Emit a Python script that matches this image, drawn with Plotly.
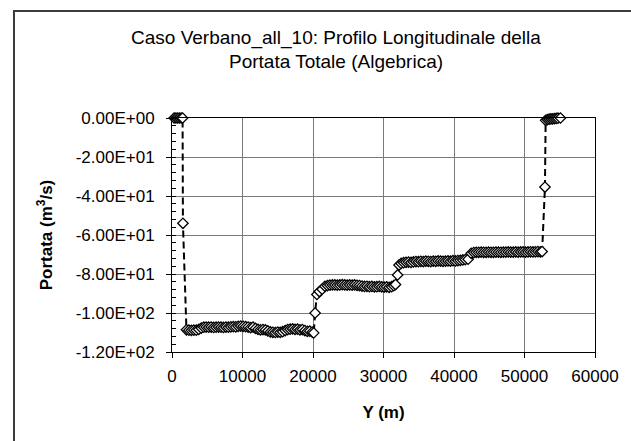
import plotly.graph_objects as go

# Longitudinal position Y (m) and algebraic total discharge (m^3/s)
y_pos = [
    300, 550, 800, 1050, 1300, 1500,
    1550,
    2050, 2400, 2750, 3100, 3450, 3800, 4150, 4500, 4850, 5200, 5550, 5900,
    6250, 6600, 6950, 7300, 7650, 8000, 8350, 8700, 9050, 9400, 9750, 10100,
    10450, 10800, 11150, 11500, 11850, 12200, 12550, 12900, 13250, 13600,
    13950, 14300, 14650, 15000, 15350, 15700, 16050, 16400, 16750, 17100,
    17450, 17800, 18150, 18500, 18850, 19200, 19550, 19900, 20100,
    20300, 20550, 20900, 21300,
    21700, 22050, 22400, 22750, 23100, 23450, 23800, 24150, 24500, 24850,
    25200, 25550, 25900, 26250, 26600, 26950, 27300, 27650, 28000, 28350,
    28700, 29050, 29400, 29750, 30100, 30450, 30800, 31150,
    31450, 31700, 32000, 32200,
    32500, 32850, 33200, 33550, 33900, 34250, 34600, 34950, 35300, 35650,
    36000, 36350, 36700, 37050, 37400, 37750, 38100, 38450, 38800, 39150,
    39500, 39850, 40200, 40550, 40900, 41250, 41600,
    42000, 42450,
    42800, 43150, 43500, 43850, 44200, 44550, 44900, 45250, 45600, 45950,
    46300, 46650, 47000, 47350, 47700, 48050, 48400, 48750, 49100, 49450,
    49800, 50150, 50500, 50850, 51200, 51550, 51900, 52250, 52500,
    52900,
    53000, 53250, 53500, 53750, 54000, 54250, 54500, 54750, 55100,
]

portata = [
    0.0, 0.0, 0.0, 0.0, 0.0, 0.0,
    -54.0,
    -108.6, -108.8, -108.9, -108.8, -108.8, -108.4, -107.7, -107.3, -107.2,
    -107.3, -107.2, -107.4, -107.3, -107.2, -107.3, -107.4, -107.2, -107.3,
    -107.1, -107.0, -107.1, -106.8, -106.7, -106.8, -107.0, -107.2, -107.5,
    -107.3, -107.9, -108.4, -108.6, -108.5, -108.7, -109.2, -109.7, -109.9,
    -110.0, -109.8, -109.9, -109.6, -109.0, -108.5, -108.3, -108.2, -108.4,
    -108.3, -108.6, -108.5, -109.0, -109.4, -109.3, -109.8, -110.2,
    -100.0, -90.5, -89.0, -87.8,
    -86.3, -85.9, -85.7, -85.6, -85.6, -85.7, -85.6, -85.5, -85.6, -85.7,
    -85.6, -85.7, -85.6, -85.8, -85.9, -86.2, -86.4, -86.3, -86.5, -86.4,
    -86.6, -86.5, -86.4, -86.6, -86.7, -86.6, -86.8, -86.5,
    -86.0, -85.4, -80.5, -75.4,
    -74.6, -74.2, -74.0, -73.9, -74.1, -73.8, -73.6, -73.7, -73.5, -73.6,
    -73.4, -73.5, -73.6, -73.4, -73.5, -73.3, -73.4, -73.5, -73.4, -73.3,
    -73.4, -73.2, -73.3, -73.1, -73.0, -72.8, -72.6,
    -72.4, -69.4,
    -69.0, -68.9, -68.9, -68.8, -68.9, -68.9, -68.8, -68.9, -68.9, -68.8,
    -68.8, -68.9, -68.8, -68.8, -68.7, -68.8, -68.8, -68.7, -68.8, -68.7,
    -68.7, -68.8, -68.7, -68.6, -68.7, -68.6, -68.5, -68.6, -68.5,
    -35.4,
    -1.2, -0.8, -0.6, -0.5, -0.4, -0.3, -0.2, -0.1, 0.0,
]

y_tick_values = [0, -20, -40, -60, -80, -100, -120]
y_tick_labels = ["0.00E+00", "-2.00E+01", "-4.00E+01", "-6.00E+01",
                 "-8.00E+01", "-1.00E+02", "-1.20E+02"]
x_tick_values = [0, 10000, 20000, 30000, 40000, 50000, 60000]

title_lines = ["Caso Verbano_all_10: Profilo Longitudinale della",
               "Portata Totale (Algebrica)"]

font_family = "Liberation Sans, Arial, sans-serif"

# plot area in pixels: x 172..603, y 118..352
def px_to_paper_x(px):
    return (px - 172) / 431

def px_to_paper_y(py):
    return (352 - py) / 234

fig = go.Figure()
fig.add_trace(go.Scatter(
    x=y_pos,
    y=portata,
    mode="lines+markers",
    line=dict(color="black", width=2, dash="7px,4px"),
    marker=dict(symbol="diamond", size=8, color="white",
                line=dict(color="black", width=1.3)),
    showlegend=False,
    cliponaxis=False,
))

title_annotations = [
    dict(text=line, xref="paper", yref="paper",
         x=px_to_paper_x(339), y=px_to_paper_y(py),
         xanchor="center", yanchor="middle", showarrow=False,
         font=dict(size=19, family=font_family, color="black"))
    for line, py in zip(title_lines, [38, 62])
]

fig.update_layout(
    width=631,
    height=441,
    margin=dict(l=172, r=28, t=118, b=89),
    paper_bgcolor="white",
    plot_bgcolor="white",
    font=dict(family=font_family, color="black", size=17),
    annotations=title_annotations,
    xaxis=dict(
        range=[0, 60000],
        tickvals=x_tick_values,
        ticktext=[str(v) for v in x_tick_values],
        showgrid=True, gridcolor="#7a7a7a", gridwidth=1,
        showline=True, linecolor="black", linewidth=1, mirror=True,
        ticks="outside", ticklen=5, tickcolor="black",
        ticklabelstandoff=4,
        tickfont=dict(size=17),
        zeroline=False,
        title=dict(text="<b>Y (m)</b>", font=dict(size=17), standoff=20),
    ),
    yaxis=dict(
        range=[-120, 0],
        tickvals=y_tick_values,
        ticktext=y_tick_labels,
        showgrid=True, gridcolor="#7a7a7a", gridwidth=1,
        showline=True, linecolor="black", linewidth=1, mirror=True,
        ticks="outside", ticklen=5, tickcolor="black",
        ticklabelstandoff=8,
        tickfont=dict(size=17),
        zeroline=False,
        minor=dict(dtick=4, ticks="inside", ticklen=4, tickcolor="black",
                   showgrid=False),
        title=dict(text="<b>Portata (m<sup>3</sup>/s)</b>", font=dict(size=17),
                   standoff=18),
    ),
    shapes=[dict(
        type="rect", xref="paper", yref="paper",
        x0=px_to_paper_x(11), x1=1.2,
        y0=-0.5, y1=px_to_paper_y(11),
        line=dict(color="#3c3c3c", width=2),
        fillcolor="rgba(0,0,0,0)",
        layer="below",
    )],
)

fig.write_html("out.html")
